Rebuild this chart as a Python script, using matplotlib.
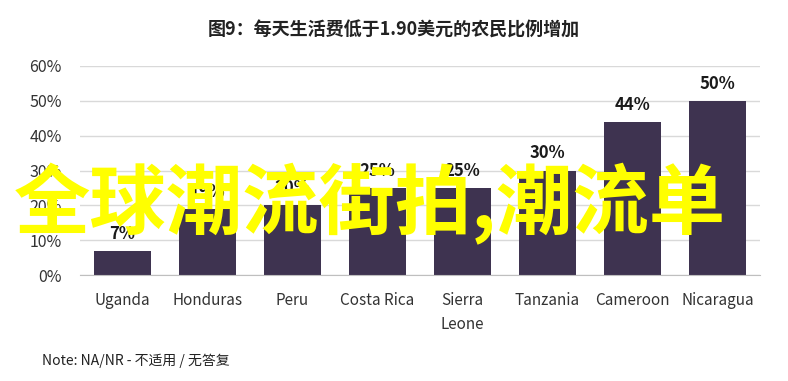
import matplotlib.pyplot as plt
from matplotlib.ticker import FuncFormatter

countries = ['Uganda', 'Honduras', 'Peru', 'Costa Rica', 'Sierra\nLeone',
             'Tanzania', 'Cameroon', 'Nicaragua']
shares = [7, 19, 20, 25, 25, 30, 44, 50]
y_ticks = [0, 10, 20, 30, 40, 50, 60]

title = '图9：每天生活费低于1.90美元的农民比例增加'
note = 'Note: NA/NR - 不适用 / 无答复'
watermark = '全球潮流街拍,潮流单'

bar_color = '#3e3350'
grid_color = '#d9d9d9'
fonts = ['Noto Sans CJK SC', 'DejaVu Sans']

plt.rcParams['font.family'] = fonts
fig = plt.figure(figsize=(7.88, 3.81), dpi=100)
fig.patch.set_facecolor('white')
ax = fig.add_axes([80 / 788, 1 - 275 / 381, 680 / 788, 209 / 381])

x = range(len(countries))
ax.bar(x, shares, width=0.68, color=bar_color, zorder=2)
# value labels above bars
for i, v in zip(x, shares):
    ax.text(i, v + 2.3, f'{v}%', ha='center', va='bottom', fontsize=12,
            fontweight='bold', color='#1a1a1a', zorder=3)

ax.set_xlim(-0.5, len(countries) - 0.5)
ax.set_ylim(0, 60)
ax.set_yticks(y_ticks)
ax.yaxis.set_major_formatter(FuncFormatter(lambda v, p: f'{int(v)}%'))
ax.yaxis.grid(True, color=grid_color, linewidth=1, zorder=0)
ax.set_xticks(list(x))
ax.set_xticklabels(countries, fontsize=11, color='#333333', linespacing=1.6)
ax.tick_params(axis='y', labelsize=11.5, colors='#333333', length=0, pad=13)
ax.tick_params(axis='x', length=0, pad=12)
for s in ['top', 'right', 'left']:
    ax.spines[s].set_visible(False)
ax.spines['bottom'].set_color('#bfbfbf')

fig.text(0.5, 1 - 30 / 381, title, ha='center', va='center', fontsize=13,
         fontweight='bold', color='#222222')
fig.text(42 / 788, 1 - 361 / 381, note, ha='left', va='center', fontsize=10,
         color='#222222')
# yellow overlay text from the original image
fig.text(370 / 788, 1 - 204 / 381, watermark, ha='center', va='center',
         fontsize=55, fontweight='bold', color='#ffff00', zorder=10)

fig.savefig('out.png', dpi=100)
